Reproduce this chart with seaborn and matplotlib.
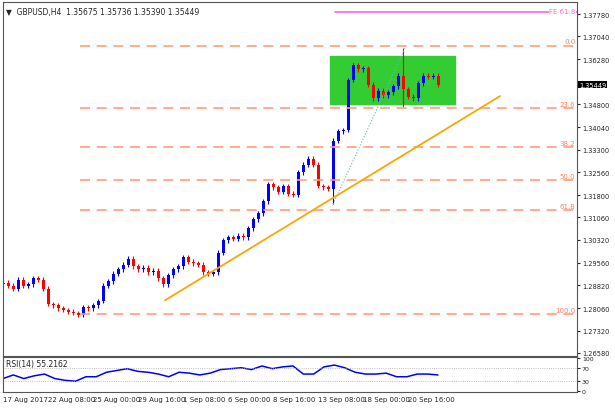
import matplotlib
matplotlib.use("Agg")
import matplotlib.pyplot as plt
import seaborn as sns
import numpy as np
import pandas as pd
from matplotlib.patches import Rectangle

sns.set_style("white")
plt.rcParams['font.family'] = ['DejaVu Sans']

closes = [1.2890,1.2880,1.2870,1.2900,1.2880,1.2885,1.2905,1.2900,1.2870,1.2820,
          1.2815,1.2805,1.2800,1.2795,1.2790,1.2785,1.2810,1.2805,1.2815,1.2830,
          1.2880,1.2895,1.2920,1.2935,1.2950,1.2970,1.2945,1.2935,1.2940,1.2925,
          1.2930,1.2905,1.2885,1.2915,1.2935,1.2945,1.2975,1.2960,1.2955,1.2950,
          1.2925,1.2920,1.2925,1.2990,1.3030,1.3040,1.3035,1.3045,1.3040,1.3070,
          1.3100,1.3120,1.3160,1.3215,1.3205,1.3190,1.3210,1.3185,1.3180,1.3255,
          1.3280,1.3300,1.3280,1.3210,1.3205,1.3200,1.3360,1.3390,1.3395,1.3560,
          1.3610,1.3595,1.3600,1.3545,1.3500,1.3525,1.3510,1.3520,1.3540,1.3575,
          1.3530,1.3505,1.3500,1.3550,1.3575,1.3570,1.3575,1.3545]
first_open = 1.2885
rsi_px = [380,376,380,377,375,380,382,383,378,378,373,371,369,372,373,375,378,373,374,
          376,374,370,369,368,370,366,369,367,366,375,375,367,365,368,373,375,375,374,
          378,378,375,375,376]
rsi_vals = [30 + (383 - y) / 0.375 for y in rsi_px]
fib_levels = [1.3674, 1.3468, 1.3338, 1.3230, 1.3129, 1.2787]
fib_labels = ["0.0", "23.6", "38.2", "50.0", "61.8", "100.0"]
yticks = [1.37780,1.37040,1.36280,1.34800,1.34040,1.33300,1.32560,1.31800,
          1.31060,1.30320,1.29560,1.28820,1.28060,1.27320,1.26580]
date_labels = ["17 Aug 2017","22 Aug 08:00","25 Aug 00:00","29 Aug 16:00","1 Sep 08:00",
               "6 Sep 00:00","8 Sep 16:00","13 Sep 08:00","18 Sep 00:00","20 Sep 16:00"]

opens = [first_open] + closes[:-1]
df = pd.DataFrame({"i": np.arange(len(closes)), "o": opens, "c": closes})
df["hi"] = df[["o", "c"]].max(axis=1) + 0.0008
df["lo"] = df[["o", "c"]].min(axis=1) - 0.0008
df.loc[66, "lo"] = 1.3150
df.loc[80, "hi"] = 1.3665
df.loc[80, "lo"] = 1.3470

W, H = 615, 410
AW = 574
fig = plt.figure(figsize=(W/100, H/100), dpi=100)
ax = fig.add_axes([3/W, (H-357)/H, AW/W, 354/H])
ax2 = fig.add_axes([3/W, (H-393)/H, AW/W, 35/H])
XMAX = AW / 5

up = df.c >= df.o
cols = np.where(up, "#0000ff", "#ff0000")
ax.vlines(df.i, df.lo, df.hi, colors=cols, lw=0.8)
ax.bar(df.i, (df.c - df.o).abs().clip(lower=0.0002), bottom=df[["o", "c"]].min(axis=1),
       width=0.6, color=cols, lw=0)

ax.add_patch(Rectangle((65.4, 1.3481), 25, 0.0157, color="#33cc33", zorder=0))
for lv, lb in zip(fib_levels, fib_labels):
    ax.plot([15.4, XMAX], [lv, lv], color="#ffa07a", lw=1.2, ls=(0, (6, 4)))
    ax.text(XMAX - 0.3, lv + 0.0004, lb, color="#ff8060", fontsize=5, ha="right", va="bottom")
ax.plot([66.4, XMAX], [1.3785, 1.3785], color="#ff66dd", lw=1.2)
ax.text(XMAX - 0.3, 1.3787, "FE 61.8", color="#ff66dd", fontsize=5, ha="right", va="center",
        bbox=dict(fc="white", ec="none", pad=0.3))
ax.plot([32.4, 99.4], [1.2832, 1.3507], color="#ffa500", lw=1.3)
ax.plot([66, 80.4], [1.3150, 1.3665], color="#66bbbb", lw=0.8, ls=":")

ax.set_xlim(0, XMAX)
ax.set_ylim(1.2648, 1.3818)
ax.yaxis.tick_right()
ax.set_yticks(yticks)
ax.set_yticklabels([f"{v:.5f}" for v in yticks], fontsize=4.8)
ax.tick_params(axis="y", length=2, pad=1.5)
ax.set_xticks([])
ax.annotate("1.35449", xy=(1.0, 1.35449), xycoords=("axes fraction", "data"),
            xytext=(1.5, 0), textcoords="offset points", fontsize=4.8, color="white",
            va="center", ha="left", bbox=dict(fc="black", ec="none", pad=0.6),
            annotation_clip=False)
ax.text(0.005, 0.985, "▼  GBPUSD,H4  1.35675 1.35736 1.35390 1.35449", transform=ax.transAxes,
        fontsize=5.5, va="top")
for s in ax.spines.values():
    s.set_color("#555555"); s.set_linewidth(0.8)

rx = np.arange(len(rsi_vals)) * (len(closes) - 1) / (len(rsi_vals) - 1)
sns.lineplot(x=rx, y=rsi_vals, ax=ax2, color="#0000ff", lw=1.1)
for lv in (30, 70):
    ax2.axhline(lv, color="#aaaaaa", lw=0.6, ls=":")
ax2.set_xlim(0, XMAX)
ax2.yaxis.tick_right()
ax2.set_yticks([0, 30, 70, 100])
ax2.set_yticklabels(["0", "30", "70", "100"], fontsize=4.5)
ax2.set_ylim(-2, 102)
ax2.tick_params(axis="y", length=2, pad=1.5)
ax2.text(0.005, 0.93, "RSI(14) 55.2162", transform=ax2.transAxes, fontsize=5.5, va="top")
ax2.set_xticks(np.arange(len(date_labels)) * 9)
ax2.set_xticklabels(date_labels, fontsize=5, ha="left")
ax2.tick_params(axis="x", length=2, pad=1)
for s in ax2.spines.values():
    s.set_color("#555555"); s.set_linewidth(0.8)

fig.savefig("out.png", dpi=100)
